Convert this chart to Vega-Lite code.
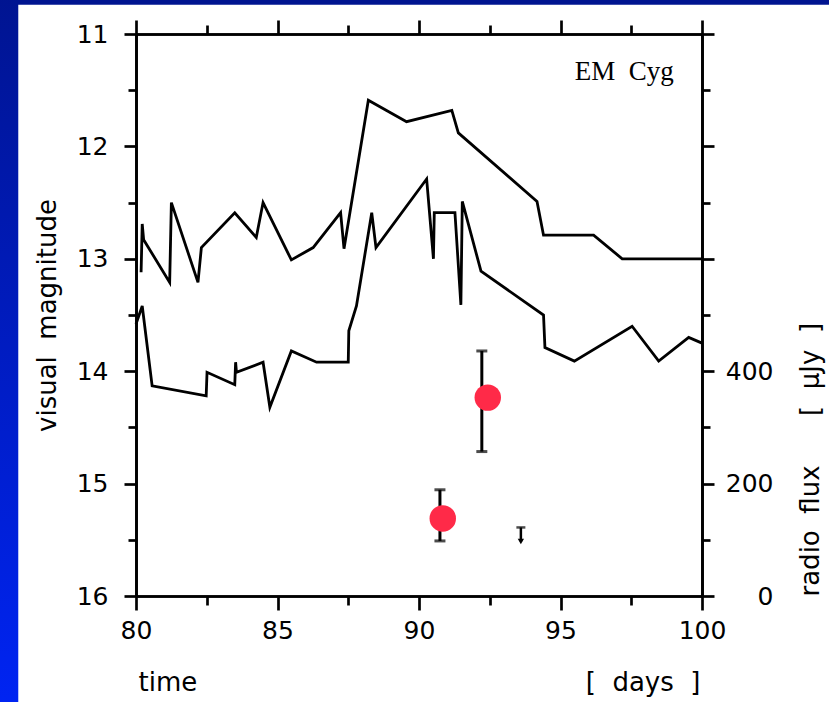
{
  "$schema": "https://vega.github.io/schema/vega-lite/v6.json",
  "width": 566,
  "height": 562,
  "autosize": "none",
  "padding": {"left": 136, "top": 34, "right": 127, "bottom": 106},
  "background": "white",
  "config": {
    "view": {"stroke": null},
    "axis": {
      "zindex": 1,
      "grid": false,
      "domainColor": "black",
      "domainWidth": 2.7,
      "tickColor": "black",
      "tickWidth": 2.7,
      "labelFont": "DejaVu Sans",
      "labelFontSize": 25,
      "labelColor": "black",
      "labelFlush": false,
      "labelOverlap": false,
      "titleFont": "DejaVu Sans",
      "titleFontSize": 26,
      "titleFontWeight": "normal",
      "titleColor": "black"
    }
  },
  "datasets": {
    "vis": [
      {"s": "a", "i": 1, "t": 80.18, "mag": 13.12},
      {"s": "a", "i": 2, "t": 80.22, "mag": 12.69},
      {"s": "a", "i": 3, "t": 80.27, "mag": 12.83},
      {"s": "a", "i": 4, "t": 81.19, "mag": 13.21},
      {"s": "a", "i": 5, "t": 81.25, "mag": 12.50},
      {"s": "a", "i": 6, "t": 82.19, "mag": 13.21},
      {"s": "a", "i": 7, "t": 82.31, "mag": 12.90},
      {"s": "a", "i": 8, "t": 83.49, "mag": 12.59},
      {"s": "a", "i": 9, "t": 84.25, "mag": 12.81},
      {"s": "a", "i": 10, "t": 84.49, "mag": 12.50},
      {"s": "a", "i": 11, "t": 85.49, "mag": 13.01},
      {"s": "a", "i": 12, "t": 86.26, "mag": 12.90},
      {"s": "a", "i": 13, "t": 87.23, "mag": 12.59},
      {"s": "a", "i": 14, "t": 87.35, "mag": 12.91},
      {"s": "a", "i": 15, "t": 88.21, "mag": 11.59},
      {"s": "a", "i": 16, "t": 89.56, "mag": 11.78},
      {"s": "a", "i": 17, "t": 91.16, "mag": 11.68},
      {"s": "a", "i": 18, "t": 91.39, "mag": 11.88},
      {"s": "a", "i": 19, "t": 94.17, "mag": 12.49},
      {"s": "a", "i": 20, "t": 94.40, "mag": 12.79},
      {"s": "a", "i": 21, "t": 96.17, "mag": 12.79},
      {"s": "a", "i": 22, "t": 97.18, "mag": 13.00},
      {"s": "a", "i": 23, "t": 100.0, "mag": 13.00},
      {"s": "b", "i": 1, "t": 80.0, "mag": 13.58},
      {"s": "b", "i": 2, "t": 80.22, "mag": 13.42},
      {"s": "b", "i": 3, "t": 80.57, "mag": 14.13},
      {"s": "b", "i": 4, "t": 82.48, "mag": 14.22},
      {"s": "b", "i": 5, "t": 82.51, "mag": 14.01},
      {"s": "b", "i": 6, "t": 83.49, "mag": 14.12},
      {"s": "b", "i": 7, "t": 83.52, "mag": 13.92},
      {"s": "b", "i": 8, "t": 83.55, "mag": 14.01},
      {"s": "b", "i": 9, "t": 84.49, "mag": 13.92},
      {"s": "b", "i": 10, "t": 84.73, "mag": 14.32},
      {"s": "b", "i": 11, "t": 85.49, "mag": 13.82},
      {"s": "b", "i": 12, "t": 86.38, "mag": 13.92},
      {"s": "b", "i": 13, "t": 87.50, "mag": 13.92},
      {"s": "b", "i": 14, "t": 87.52, "mag": 13.64},
      {"s": "b", "i": 15, "t": 87.79, "mag": 13.42},
      {"s": "b", "i": 16, "t": 88.33, "mag": 12.59},
      {"s": "b", "i": 17, "t": 88.48, "mag": 12.90},
      {"s": "b", "i": 18, "t": 90.27, "mag": 12.29},
      {"s": "b", "i": 19, "t": 90.51, "mag": 13.00},
      {"s": "b", "i": 20, "t": 90.54, "mag": 12.59},
      {"s": "b", "i": 21, "t": 91.27, "mag": 12.59},
      {"s": "b", "i": 22, "t": 91.48, "mag": 13.41},
      {"s": "b", "i": 23, "t": 91.53, "mag": 12.49},
      {"s": "b", "i": 24, "t": 92.19, "mag": 13.11},
      {"s": "b", "i": 25, "t": 94.40, "mag": 13.50},
      {"s": "b", "i": 26, "t": 94.45, "mag": 13.79},
      {"s": "b", "i": 27, "t": 95.49, "mag": 13.91},
      {"s": "b", "i": 28, "t": 97.53, "mag": 13.60},
      {"s": "b", "i": 29, "t": 98.47, "mag": 13.91},
      {"s": "b", "i": 30, "t": 99.53, "mag": 13.70},
      {"s": "b", "i": 31, "t": 100.0, "mag": 13.75}
    ],
    "radio": [
      {"t": 92.43, "t_err": 92.22, "flux": 353, "lo": 257, "hi": 436},
      {"t": 90.84, "t_err": 90.74, "flux": 138, "lo": 98, "hi": 189}
    ],
    "limits": [
      {"t": 93.60, "limit": 122, "tip": 97}
    ]
  },
  "resolve": {
    "scale": {"y": "independent"},
    "axis": {"x": "independent", "y": "independent"}
  },
  "layer": [
    {
      "data": {"values": [{}]},
      "mark": {"type": "rect", "fill": "#001490"},
      "encoding": {
        "x": {"datum": 60, "type": "quantitative", "scale": {"domain": [80, 100], "nice": false, "zero": false}, "axis": null},
        "x2": {"datum": 120},
        "y": {"datum": 10.0, "type": "quantitative", "scale": {"domain": [11, 16], "reverse": true, "nice": false, "zero": false}, "axis": null},
        "y2": {"datum": 10.74}
      }
    },
    {
      "data": {"values": [{}]},
      "mark": {
        "type": "rect",
        "fill": {
          "gradient": "linear", "x1": 0, "y1": 0, "x2": 0, "y2": 1,
          "stops": [{"offset": 0, "color": "#001490"}, {"offset": 1, "color": "#0024F2"}]
        }
      },
      "encoding": {
        "x": {"datum": 60, "type": "quantitative", "scale": {"domain": [80, 100], "nice": false, "zero": false}, "axis": null},
        "x2": {"datum": 75.84},
        "y": {"datum": 10.6, "type": "quantitative", "scale": {"domain": [11, 16], "reverse": true, "nice": false, "zero": false}, "axis": null},
        "y2": {"datum": 16.95}
      }
    },
    {
      "data": {"name": "vis"},
      "transform": [{"filter": "datum.s === 'a'"}],
      "mark": {"type": "line", "color": "black", "strokeWidth": 2.8},
      "encoding": {
        "x": {
          "field": "t", "type": "quantitative",
          "scale": {"domain": [80, 100], "nice": false, "zero": false},
          "axis": {
            "orient": "bottom", "values": [80, 85, 90, 95, 100], "tickSize": 14, "labelPadding": 8,
            "title": "time\u00a0\u00a0\u00a0\u00a0\u00a0\u00a0\u00a0\u00a0\u00a0\u00a0\u00a0\u00a0\u00a0\u00a0\u00a0\u00a0\u00a0\u00a0\u00a0\u00a0\u00a0\u00a0\u00a0\u00a0\u00a0\u00a0\u00a0\u00a0\u00a0\u00a0\u00a0\u00a0\u00a0\u00a0\u00a0\u00a0\u00a0\u00a0\u00a0\u00a0\u00a0\u00a0\u00a0\u00a0\u00a0\u00a0\u00a0[\u00a0\u00a0days\u00a0\u00a0]",
            "titlePadding": 26
          }
        },
        "y": {
          "field": "mag", "type": "quantitative",
          "scale": {"domain": [11, 16], "reverse": true, "nice": false, "zero": false},
          "axis": {
            "orient": "left", "values": [11, 12, 13, 14, 15, 16], "tickSize": 12, "labelPadding": 16,
            "title": "visual\u00a0\u00a0magnitude", "titlePadding": 16
          }
        },
        "order": {"field": "i", "type": "quantitative"}
      }
    },
    {
      "data": {"name": "vis"},
      "transform": [{"filter": "datum.s === 'b'"}],
      "mark": {"type": "line", "color": "black", "strokeWidth": 2.8},
      "encoding": {
        "x": {
          "field": "t", "type": "quantitative",
          "scale": {"domain": [80, 100], "nice": false, "zero": false},
          "axis": {"orient": "top", "values": [80, 85, 90, 95, 100], "tickSize": 14, "labels": false, "title": null}
        },
        "y": {
          "field": "mag", "type": "quantitative",
          "scale": {"domain": [11, 16], "reverse": true, "nice": false, "zero": false},
          "axis": {"orient": "left", "values": [11.5, 12.5, 13.5, 14.5, 15.5], "tickSize": 8, "labels": false, "title": null}
        },
        "order": {"field": "i", "type": "quantitative"}
      }
    },
    {
      "data": {"values": [{}]},
      "mark": {"type": "text", "text": "EM\u00a0\u00a0Cyg", "font": "Liberation Serif", "fontSize": 27, "color": "black", "align": "left", "baseline": "alphabetic"},
      "encoding": {
        "x": {
          "datum": 95.5, "type": "quantitative",
          "scale": {"domain": [80, 100], "nice": false, "zero": false},
          "axis": {"orient": "top", "values": [82.5, 87.5, 92.5, 97.5], "tickSize": 9, "labels": false, "title": null}
        },
        "y": {"datum": 11.405, "type": "quantitative", "scale": {"domain": [11, 16], "reverse": true, "nice": false, "zero": false}, "axis": null}
      }
    },
    {
      "data": {"name": "radio"},
      "mark": {"type": "rule", "color": "black", "strokeWidth": 3},
      "encoding": {
        "x": {
          "field": "t_err", "type": "quantitative",
          "scale": {"domain": [80, 100], "nice": false, "zero": false},
          "axis": {"orient": "bottom", "values": [82.5, 87.5, 92.5, 97.5], "tickSize": 9, "labels": false, "title": null}
        },
        "y": {
          "field": "lo", "type": "quantitative",
          "scale": {"domain": [0, 1000], "nice": false, "zero": false},
          "axis": {
            "orient": "right", "values": [0, 200, 400, 600, 800, 1000], "tickSize": 12,
            "labelExpr": "datum.value <= 400 ? datum.label : ''",
            "labelAlign": "right", "labelPadding": 59,
            "title": "\u00a0radio\u00a0\u00a0flux\u00a0\u00a0\u00a0\u00a0\u00a0\u00a0[\u00a0\u00a0\u03bcJy\u00a0\u00a0]",
            "titleAngle": 270, "titleBaseline": "top", "titleAnchor": "start", "titlePadding": 24
          }
        },
        "y2": {"field": "hi"}
      }
    },
    {
      "data": {"name": "radio"},
      "mark": {"type": "tick", "color": "black", "orient": "horizontal", "size": 11, "thickness": 3},
      "encoding": {
        "x": {"field": "t_err", "type": "quantitative", "scale": {"domain": [80, 100], "nice": false, "zero": false}, "axis": null},
        "y": {
          "field": "lo", "type": "quantitative",
          "scale": {"domain": [0, 1000], "nice": false, "zero": false},
          "axis": {"orient": "right", "values": [100, 300, 500, 700, 900], "tickSize": 8, "labels": false, "title": null}
        }
      }
    },
    {
      "data": {"name": "radio"},
      "mark": {"type": "tick", "color": "black", "orient": "horizontal", "size": 11, "thickness": 3},
      "encoding": {
        "x": {"field": "t_err", "type": "quantitative", "scale": {"domain": [80, 100], "nice": false, "zero": false}, "axis": null},
        "y": {"field": "hi", "type": "quantitative", "scale": {"domain": [0, 1000], "nice": false, "zero": false}, "axis": null}
      }
    },
    {
      "data": {"name": "limits"},
      "mark": {"type": "rule", "color": "black", "strokeWidth": 2.5},
      "encoding": {
        "x": {"field": "t", "type": "quantitative", "scale": {"domain": [80, 100], "nice": false, "zero": false}, "axis": null},
        "y": {"field": "limit", "type": "quantitative", "scale": {"domain": [0, 1000], "nice": false, "zero": false}, "axis": null},
        "y2": {"field": "tip"}
      }
    },
    {
      "data": {"name": "limits"},
      "mark": {"type": "tick", "color": "black", "orient": "horizontal", "size": 9, "thickness": 2.5},
      "encoding": {
        "x": {"field": "t", "type": "quantitative", "scale": {"domain": [80, 100], "nice": false, "zero": false}, "axis": null},
        "y": {"field": "limit", "type": "quantitative", "scale": {"domain": [0, 1000], "nice": false, "zero": false}, "axis": null}
      }
    },
    {
      "data": {"name": "limits"},
      "mark": {"type": "point", "shape": "triangle-down", "filled": true, "color": "black", "size": 40, "opacity": 1},
      "encoding": {
        "x": {"field": "t", "type": "quantitative", "scale": {"domain": [80, 100], "nice": false, "zero": false}, "axis": null},
        "y": {"field": "tip", "type": "quantitative", "scale": {"domain": [0, 1000], "nice": false, "zero": false}, "axis": null}
      }
    },
    {
      "data": {"name": "radio"},
      "mark": {"type": "circle", "color": "#FF2A48", "opacity": 1, "size": 700},
      "encoding": {
        "x": {"field": "t", "type": "quantitative", "scale": {"domain": [80, 100], "nice": false, "zero": false}, "axis": null},
        "y": {"field": "flux", "type": "quantitative", "scale": {"domain": [0, 1000], "nice": false, "zero": false}, "axis": null}
      }
    }
  ]
}
